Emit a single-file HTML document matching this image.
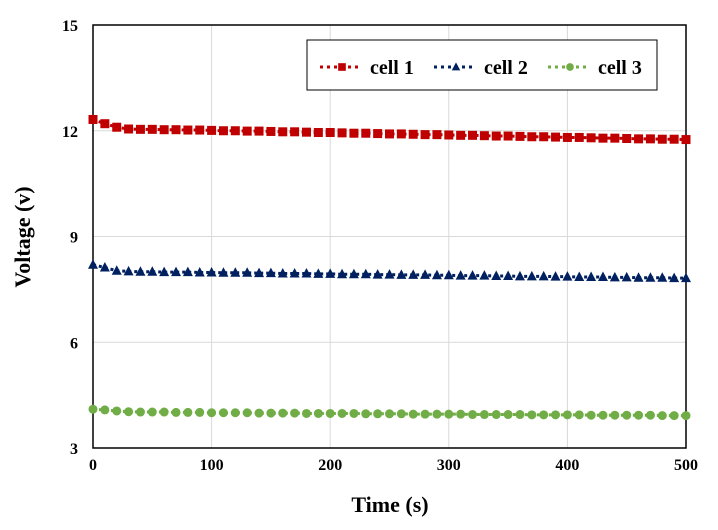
<!DOCTYPE html>
<html><head><meta charset="utf-8"><style>
body{margin:0;background:#fff}
svg{font-family:"Liberation Serif",serif;font-weight:bold}
</style></head><body>
<svg width="718" height="525">
<g id="grid"></g>
<g id="axes"></g>
<g id="series"></g>
<text x="30" y="237" transform="rotate(-90 30 237)" text-anchor="middle" font-size="22">Voltage (v)</text>
<text x="390" y="512" text-anchor="middle" font-size="22">Time (s)</text>
<g>
<rect x="307" y="40" width="350" height="50" fill="#fff" stroke="#000" stroke-width="1"/>
<g id="legend"></g>
</g>
</svg>
<script>
const xTicks=[0,100,200,300,400,500];
const yTicks=[3,6,9,12,15];
const times=[];for(let i=0;i<=50;i++)times.push(i*10);
const cell1=[12.32,12.2,12.1,12.05,12.04,12.04,12.03,12.03,12.02,12.02,12.01,12.0,12.0,11.99,11.99,11.98,11.97,11.97,11.96,11.95,11.95,11.94,11.93,11.93,11.92,11.91,11.91,11.9,11.89,11.89,11.88,11.87,11.87,11.86,11.85,11.85,11.84,11.83,11.83,11.82,11.81,11.81,11.8,11.79,11.79,11.78,11.77,11.77,11.76,11.76,11.75];
const cell2=[8.2,8.12,8.03,8.01,8.0,8.0,7.99,7.99,7.99,7.98,7.98,7.97,7.97,7.97,7.96,7.96,7.95,7.95,7.95,7.94,7.94,7.93,7.93,7.93,7.92,7.92,7.91,7.91,7.91,7.9,7.9,7.89,7.89,7.89,7.88,7.88,7.87,7.87,7.87,7.86,7.86,7.85,7.85,7.85,7.84,7.84,7.83,7.83,7.83,7.82,7.82];
const cell3=[4.1,4.08,4.05,4.03,4.02,4.02,4.02,4.01,4.01,4.01,4.0,4.0,4.0,4.0,3.99,3.99,3.99,3.99,3.98,3.98,3.98,3.98,3.98,3.97,3.97,3.97,3.97,3.96,3.96,3.96,3.96,3.96,3.95,3.95,3.95,3.95,3.95,3.94,3.94,3.94,3.94,3.94,3.93,3.93,3.93,3.93,3.93,3.93,3.92,3.92,3.92];
const seriesNames=["cell 1","cell 2","cell 3"];
const NS="http://www.w3.org/2000/svg";
const X0=93,X1=686,Y0=448,Y1=25;
const sx=v=>X0+(v-0)/500*(X1-X0);
const sy=v=>Y0-(v-3)/12*(Y0-Y1);
function mk(tag,attrs,parent){const e=document.createElementNS(NS,tag);for(const k in attrs)e.setAttribute(k,attrs[k]);parent.appendChild(e);return e;}
const grid=document.getElementById('grid'),axes=document.getElementById('axes'),ser=document.getElementById('series');
xTicks.forEach(t=>{
 if(t>0&&t<500){const l=mk('line',{x1:sx(t),x2:sx(t),y1:Y1,y2:Y0,stroke:'#d9d9d9','stroke-width':1},grid);
 
 }
 const tx=mk('text',{x:sx(t),y:Y0+22,'text-anchor':'middle','font-size':16},axes);tx.textContent=t;
 
 
});
yTicks.forEach(t=>{
 if(t>3&&t<15){const l=mk('line',{x1:X0,x2:X1,y1:sy(t),y2:sy(t),stroke:'#d9d9d9','stroke-width':1},grid);
 
 }
 const tx=mk('text',{x:X0-15,y:sy(t)+6,'text-anchor':'end','font-size':16},axes);tx.textContent=t;
 
 
});
const border=mk('rect',{x:X0,y:Y1,width:X1-X0,height:Y0-Y1,fill:'none',stroke:'#000','stroke-width':1.5},axes);


const colors=['#c00000','#002060','#70ad47'];
function marker(k,x,y,g,s){
 s=s||1;let m;
 if(k==0)m=mk('rect',{x:x-4.5*s,y:y-4.5*s,width:9*s,height:9*s,fill:colors[0]},g);
 else if(k==1)m=mk('polygon',{points:`${x},${y-5.5*s} ${x+5*s},${y+4*s} ${x-5*s},${y+4*s}`,fill:colors[1]},g);
 else m=mk('circle',{cx:x,cy:y,r:4.5*s,fill:colors[2]},g);
 return m;
}
[cell1,cell2,cell3].forEach((d,k)=>{
 const g=mk('g',{},ser);
 
 
 mk('polyline',{points:d.map((v,i)=>sx(times[i])+','+sy(v)).join(' '),fill:'none',stroke:colors[k],'stroke-width':3,'stroke-dasharray':'3 3'},g);
 d.forEach((v,i)=>{const m=marker(k,sx(times[i]),sy(v),g);
 
 });
});
const lg=document.getElementById('legend');
const lx=[320,434,548];
seriesNames.forEach((n,k)=>{
 const g=mk('g',{},lg);
 
 
 mk('line',{x1:lx[k],x2:lx[k]+40,y1:67,y2:67,stroke:colors[k],'stroke-width':3,'stroke-dasharray':'3 4'},g);
 marker(k,lx[k]+22,67,g,0.85);
 const t=mk('text',{x:lx[k]+50,y:74,'font-size':20},g);t.textContent=n;
});
</script>
</body></html>
